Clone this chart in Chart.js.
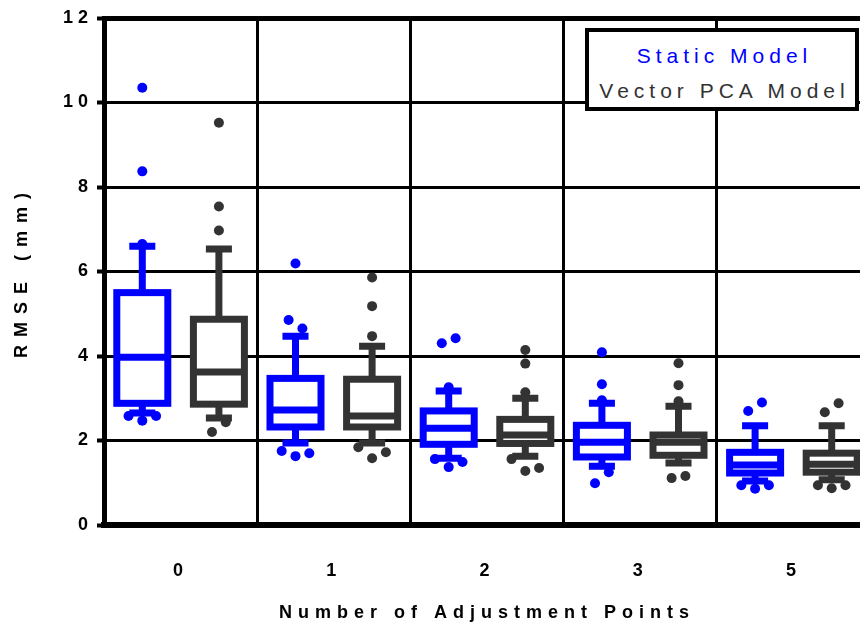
<!DOCTYPE html>
<html>
<head>
<meta charset="utf-8">
<script src="https://cdn.jsdelivr.net/npm/chart.js@4.4.0/dist/chart.umd.min.js"></script>
<style>
    html, body { margin: 0; padding: 0; overflow: hidden; background: #fff; }
    #wrap { position: relative; width: 860px; height: 626px; overflow: hidden; }
    #chart { position: absolute; left: 0; top: 0; }
    #legend {
        position: absolute; left: 585px; top: 28px; width: 266px; height: 75px;
        border: 4px solid #000; background: #fff;
        font-family: "Liberation Sans", Arial, sans-serif; font-size: 21px; letter-spacing: 5px;
    }
    #legend div { position: absolute; left: 0; width: 100%; text-align: center; line-height: 24px; text-indent: 5px; white-space: nowrap; }
    #legend .l1 { top: 12px; color: #0000ff; }
    #legend .l2 { top: 47px; color: #333; }
</style>
</head>
<body>
<div id="wrap">
    <canvas id="chart" width="880" height="626"></canvas>
    <div id="legend"><div class="l1">Static Model</div><div class="l2">Vector PCA Model</div></div>
</div>
<script>
// Données
const categories = ['0', '1', '2', '3', '5'];
const yTicks = [0, 2, 4, 6, 8, 10, 12];

const staticLow = [2.65, 1.94, 1.58, 1.39, 1.04];
const staticQ1 = [2.88, 2.32, 1.91, 1.61, 1.23];
const staticMedian = [3.97, 2.72, 2.29, 1.96, 1.42];
const staticQ3 = [5.50, 3.47, 2.70, 2.36, 1.72];
const staticHigh = [6.60, 4.47, 3.17, 2.88, 2.35];
const staticOutliers = [
    [10.35, 8.37, 6.65, 2.58, 2.47, 2.58],
    [6.19, 4.85, 4.65, 1.75, 1.63, 1.70],
    [4.30, 4.42, 3.26, 1.56, 1.37, 1.49],
    [4.09, 3.33, 2.95, 0.99, 1.25],
    [2.70, 2.90, 0.94, 0.86, 0.94]
];

const pcaLow = [2.53, 1.94, 1.63, 1.47, 1.07];
const pcaQ1 = [2.86, 2.32, 1.93, 1.65, 1.25];
const pcaMedian = [3.62, 2.58, 2.13, 1.96, 1.44];
const pcaQ3 = [4.87, 3.45, 2.50, 2.13, 1.70];
const pcaHigh = [6.53, 4.23, 3.00, 2.81, 2.35];
const pcaOutliers = [
    [9.52, 7.54, 6.97, 2.20, 2.43],
    [5.86, 5.18, 4.47, 1.84, 1.58, 1.72],
    [4.14, 3.82, 3.14, 1.56, 1.28, 1.35],
    [3.83, 3.31, 2.93, 1.11, 1.16],
    [2.67, 2.88, 0.94, 0.87, 0.94]
];

const BLUE = '#0000ff';
const GRAY = '#333333';
const FONT = '"Liberation Sans", Arial, sans-serif';

const groups = [
    { shift: -0.25, color: BLUE, low: staticLow, q1: staticQ1, med: staticMedian, q3: staticQ3, high: staticHigh, out: staticOutliers },
    { shift: 0.25, color: GRAY, low: pcaLow, q1: pcaQ1, med: pcaMedian, q3: pcaQ3, high: pcaHigh, out: pcaOutliers }
];

// Points aberrants : on écarte horizontalement ceux qui se chevauchent
function swarm(values, center) {
    const pts = [];
    let cluster = [];
    const flush = () => {
        const n = cluster.length;
        cluster.forEach((v, k) => pts.push({ x: center + (k - (n - 1) / 2) * 0.09, y: v }));
        cluster = [];
    };
    values.forEach(v => {
        if (cluster.length && Math.abs(v - cluster[cluster.length - 1]) >= 0.3) flush();
        cluster.push(v);
    });
    flush();
    return pts;
}

const datasets = groups.map(g => ({
    type: 'scatter',
    data: g.out.flatMap((vals, i) => swarm(vals, i + g.shift)),
    backgroundColor: g.color,
    borderColor: g.color,
    pointRadius: 5,
    pointHoverRadius: 5,
    borderWidth: 0
}));

// Boîtes, moustaches et médianes dessinées avec les échelles du graphique
const boxPlugin = {
    id: 'boxes',
    beforeDatasetsDraw(chart) {
        const { ctx, scales: { x, y } } = chart;
        const boxW = 0.333, capW = 0.17;
        ctx.save();
        groups.forEach(g => {
            categories.forEach((c, i) => {
                const cx = x.getPixelForValue(i + g.shift);
                const l = x.getPixelForValue(i + g.shift - boxW / 2);
                const r = x.getPixelForValue(i + g.shift + boxW / 2);
                const cl = x.getPixelForValue(i + g.shift - capW / 2);
                const cr = x.getPixelForValue(i + g.shift + capW / 2);
                const yLow = y.getPixelForValue(g.low[i]);
                const yQ1 = y.getPixelForValue(g.q1[i]);
                const yMed = y.getPixelForValue(g.med[i]);
                const yQ3 = y.getPixelForValue(g.q3[i]);
                const yHigh = y.getPixelForValue(g.high[i]);
                ctx.strokeStyle = g.color;
                ctx.lineWidth = 7;
                ctx.lineCap = 'butt';
                ctx.beginPath();
                ctx.moveTo(cx, yQ1); ctx.lineTo(cx, yLow);
                ctx.moveTo(cx, yQ3); ctx.lineTo(cx, yHigh);
                ctx.moveTo(cl, yLow); ctx.lineTo(cr, yLow);
                ctx.moveTo(cl, yHigh); ctx.lineTo(cr, yHigh);
                ctx.stroke();
                ctx.fillStyle = '#fff';
                ctx.fillRect(l, yQ3, r - l, yQ1 - yQ3);
                ctx.lineJoin = 'miter';
                ctx.strokeRect(l, yQ3, r - l, yQ1 - yQ3);
                ctx.beginPath();
                ctx.moveTo(l, yMed); ctx.lineTo(r, yMed);
                ctx.stroke();
            });
        });
        ctx.restore();
    }
};

// Espacement des lettres comme sur l'original
const spacingPlugin = {
    id: 'spacing',
    beforeDraw(chart) {
        Object.values(chart.scales).forEach(s => {
            if (s._spaced) return;
            const drawTitle = s.drawTitle, drawLabels = s.drawLabels;
            s.drawTitle = function() {
                chart.ctx.letterSpacing = s.axis === 'y' ? '8px' : '6px';
                drawTitle.apply(this, arguments);
                chart.ctx.letterSpacing = '0px';
            };
            s.drawLabels = function() {
                chart.ctx.letterSpacing = '5px';
                drawLabels.apply(this, arguments);
                chart.ctx.letterSpacing = '0px';
            };
            s._spaced = true;
        });
    }
};

new Chart(document.getElementById('chart'), {
    type: 'scatter',
    data: { datasets: datasets },
    options: {
        responsive: false,
        animation: false,
        events: [],
        layout: { padding: { left: 0, top: 18, right: 10, bottom: 0 } },
        plugins: { legend: { display: false }, tooltip: { enabled: false } },
        scales: {
            x: {
                type: 'linear',
                min: -0.5,
                max: 4.5,
                afterBuildTicks: s => { s.ticks = categories.flatMap((c, i) => [{ value: i - 0.5 }, { value: i }]).concat([{ value: 4.5 }]); },
                afterFit: s => { s.height = 101; s.paddingLeft = 0; s.paddingRight = 0; },
                ticks: {
                    autoSkip: false,
                    maxRotation: 0,
                    padding: 35,
                    color: '#000',
                    font: { family: FONT, size: 18, weight: 'bold' },
                    callback: v => Number.isInteger(v) ? categories[v] : ''
                },
                grid: {
                    drawTicks: false,
                    lineWidth: 3,
                    color: c => (c.tick && !Number.isInteger(c.tick.value)) ? '#000' : 'rgba(0,0,0,0)'
                },
                border: { display: true, width: 6, color: '#000' },
                title: {
                    display: true,
                    text: 'Number of Adjustment Points',
                    color: '#000',
                    padding: { top: 0, bottom: 2 },
                    font: { family: FONT, size: 18, weight: 'bold' }
                }
            },
            y: {
                min: 0,
                max: 12,
                afterBuildTicks: s => { s.ticks = yTicks.map(v => ({ value: v })); },
                afterFit: s => { s.width = 104; },
                ticks: {
                    padding: 4,
                    color: '#000',
                    font: { family: FONT, size: 18, weight: 'bold' }
                },
                grid: {
                    color: '#000',
                    lineWidth: c => (c.tick && c.tick.value === 12) ? 5 : 3,
                    tickLength: 7,
                    tickWidth: 4,
                    tickColor: '#000'
                },
                border: { display: true, width: 5, color: '#000' },
                title: {
                    display: true,
                    text: 'RMSE (mm)',
                    color: '#000',
                    padding: { top: 11, bottom: 0 },
                    font: { family: FONT, size: 18, weight: 'bold' }
                }
            }
        }
    },
    plugins: [boxPlugin, spacingPlugin]
});
</script>
</body>
</html>
